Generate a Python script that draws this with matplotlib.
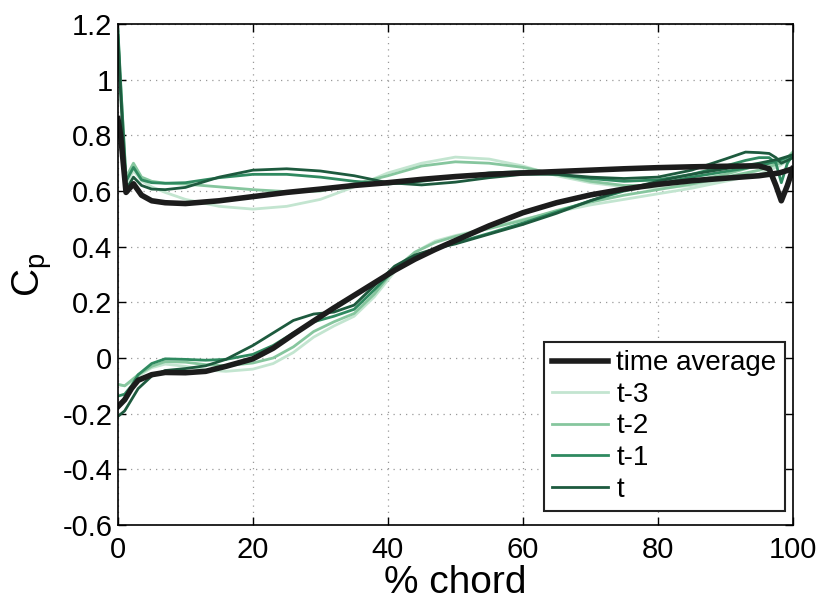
import numpy as np
import matplotlib
matplotlib.use("Agg")
import matplotlib.pyplot as plt
from matplotlib.ticker import FuncFormatter

plt.rcParams['font.family'] = ['Liberation Sans Narrow', 'Liberation Sans', 'DejaVu Sans']
plt.rcParams['axes.unicode_minus'] = False

# upper surface (% chord) and Cp values
x_up = [0, 0.4, 1.2, 2.3, 3.5, 5, 7, 10, 15, 20, 25, 30, 35, 40, 45, 50, 55, 60,
        65, 70, 75, 80, 85, 90, 93, 95, 96.5, 97.5, 98.3, 99.2, 100]
avg_up = [0.86, 0.80, 0.595, 0.626, 0.585, 0.565, 0.558, 0.555, 0.565, 0.58, 0.595,
          0.607, 0.62, 0.63, 0.642, 0.652, 0.66, 0.665, 0.67, 0.675, 0.68, 0.684,
          0.687, 0.689, 0.69, 0.69, 0.68, 0.62, 0.565, 0.62, 0.68]
t3_up = [1.15, 0.95, 0.625, 0.673, 0.637, 0.615, 0.595, 0.57, 0.545, 0.535, 0.545,
         0.57, 0.615, 0.665, 0.70, 0.722, 0.715, 0.69, 0.655, 0.63, 0.615, 0.61,
         0.62, 0.64, 0.66, 0.675, 0.685, 0.69, 0.70, 0.71, 0.72]
t2_up = [1.17, 0.98, 0.65, 0.70, 0.65, 0.635, 0.628, 0.625, 0.615, 0.605, 0.598,
         0.60, 0.625, 0.655, 0.69, 0.705, 0.70, 0.685, 0.66, 0.635, 0.62, 0.62,
         0.635, 0.66, 0.68, 0.695, 0.70, 0.70, 0.70, 0.72, 0.74]
t1_up = [1.18, 0.99, 0.635, 0.685, 0.64, 0.63, 0.628, 0.63, 0.648, 0.66, 0.66,
         0.65, 0.635, 0.625, 0.635, 0.65, 0.665, 0.67, 0.66, 0.645, 0.635, 0.64,
         0.66, 0.69, 0.71, 0.72, 0.72, 0.70, 0.63, 0.70, 0.73]
t0_up = [1.16, 0.95, 0.605, 0.65, 0.62, 0.607, 0.605, 0.613, 0.65, 0.675, 0.68,
         0.672, 0.655, 0.63, 0.622, 0.632, 0.648, 0.66, 0.66, 0.65, 0.645, 0.65,
         0.675, 0.715, 0.74, 0.738, 0.735, 0.72, 0.70, 0.71, 0.72]

# lower surface
x_lo = [0, 1, 2, 3, 5, 7, 10, 13, 16, 20, 23, 26, 29, 32, 35, 38, 41, 44, 47, 50,
        55, 60, 65, 70, 75, 80, 85, 90, 95, 98, 100]
avg_lo = [-0.175, -0.15, -0.11, -0.08, -0.06, -0.052, -0.053, -0.048, -0.03, -0.003,
          0.035, 0.085, 0.133, 0.18, 0.225, 0.27, 0.315, 0.355, 0.39, 0.422, 0.475,
          0.522, 0.558, 0.586, 0.607, 0.624, 0.637, 0.646, 0.655, 0.665, 0.68]
t3_lo = [-0.095, -0.10, -0.085, -0.065, -0.035, -0.022, -0.03, -0.043, -0.048, -0.04,
         -0.02, 0.02, 0.075, 0.115, 0.15, 0.22, 0.31, 0.38, 0.42, 0.44, 0.468,
         0.498, 0.525, 0.55, 0.57, 0.59, 0.61, 0.635, 0.66, 0.69, 0.72]
t2_lo = [-0.095, -0.10, -0.08, -0.06, -0.03, -0.013, -0.015, -0.024, -0.028, -0.018,
         0.0, 0.04, 0.095, 0.13, 0.16, 0.23, 0.32, 0.38, 0.415, 0.437, 0.465,
         0.495, 0.53, 0.56, 0.585, 0.605, 0.625, 0.65, 0.675, 0.70, 0.73]
t1_lo = [-0.137, -0.13, -0.10, -0.06, -0.02, -0.003, -0.005, -0.008, -0.005, 0.013,
         0.045, 0.09, 0.13, 0.15, 0.175, 0.245, 0.32, 0.365, 0.393, 0.413, 0.448,
         0.485, 0.525, 0.565, 0.60, 0.625, 0.65, 0.67, 0.69, 0.71, 0.73]
t0_lo = [-0.21, -0.19, -0.15, -0.11, -0.065, -0.045, -0.038, -0.028, -0.005, 0.045,
         0.09, 0.135, 0.158, 0.165, 0.19, 0.26, 0.33, 0.37, 0.393, 0.41, 0.445,
         0.48, 0.52, 0.565, 0.605, 0.635, 0.66, 0.68, 0.70, 0.715, 0.73]

labels = ['time average', 't-3', 't-2', 't-1', 't']
colors = ['#1c1c1c', '#c3e5d0', '#86c69e', '#2f8a60', '#1d5a3e']
widths = [4.0, 2.0, 2.0, 2.0, 2.0]
ups = [avg_up, t3_up, t2_up, t1_up, t0_up]
los = [avg_lo, t3_lo, t2_lo, t1_lo, t0_lo]

fig = plt.figure(figsize=(8.19, 6.02), dpi=100)
ax = fig.add_axes([0.144, 0.128, 0.824, 0.832])

for i in [1, 2, 3, 4, 0]:
    ax.plot(x_up, ups[i], color=colors[i], lw=widths[i], solid_joinstyle='round')
    ax.plot(x_lo, los[i], color=colors[i], lw=widths[i], solid_joinstyle='round')

handles = [plt.Line2D([], [], color=colors[i], lw=widths[i]) for i in range(5)]

ax.set_xlim(0, 100)
ax.set_ylim(-0.6, 1.2)
ax.set_xticks([0, 20, 40, 60, 80, 100])
ax.set_yticks(np.arange(-0.6, 1.21, 0.2))
ax.yaxis.set_major_formatter(FuncFormatter(lambda v, p: '%g' % round(v, 2)))
ax.tick_params(direction='in', top=True, right=True, length=6, width=1,
               labelsize=21)
ax.tick_params(axis='x', pad=8)
ax.tick_params(axis='y', pad=4)
ax.grid(True, linestyle=(0, (1, 4)), color='#999999', lw=0.9)
for s in ax.spines.values():
    s.set_linewidth(1.2)

ax.set_xlabel('% chord', fontsize=28, labelpad=1)
ax.set_ylabel(r'C$_\mathregular{p}$', fontsize=28, labelpad=6)

leg = ax.legend(handles, labels, loc='lower right', bbox_to_anchor=(0.988, 0.028),
                borderaxespad=0, fontsize=20, fancybox=False, framealpha=1,
                edgecolor='#222222', handlelength=2.0, handletextpad=0.3,
                labelspacing=0.2, borderpad=0.3)
leg.get_frame().set_linewidth(1.5)

fig.savefig('out.png', dpi=100)
